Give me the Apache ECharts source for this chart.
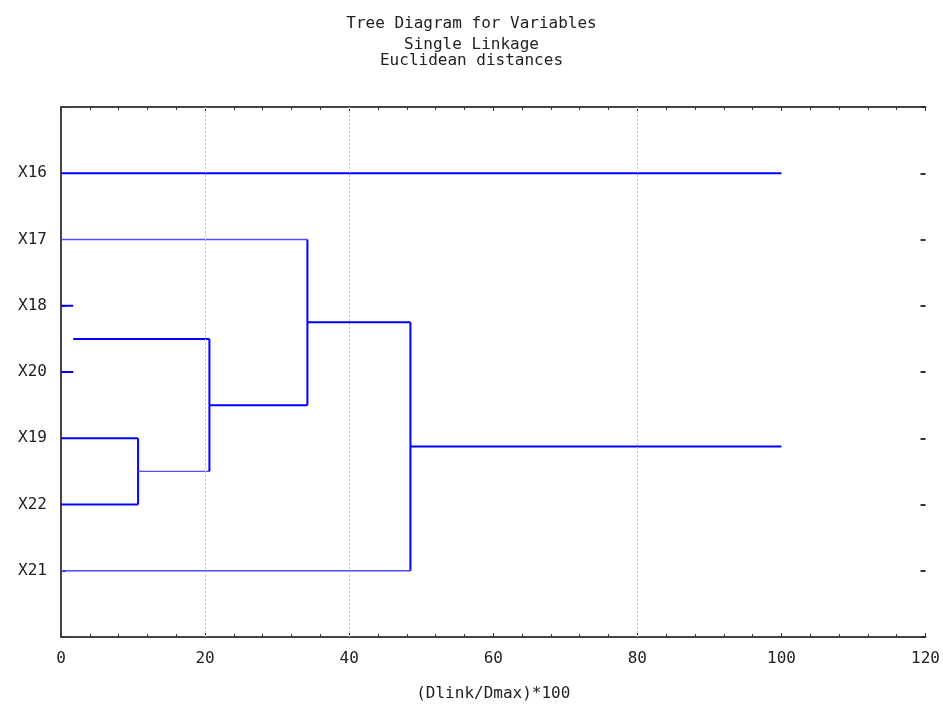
<!DOCTYPE html>
<html>
<head>
<meta charset="utf-8">
<script src="https://cdn.jsdelivr.net/npm/echarts@6/dist/echarts.min.js"></script>
<style>html,body{margin:0;padding:0;background:#fff;}#c{width:943px;height:707px;}</style>
</head>
<body>
<div id="c"></div>
<script>
// Leaves, top to bottom
const leaves = ['X16', 'X17', 'X18', 'X20', 'X19', 'X22', 'X21'];
// Merges: cluster ids 0..6 are leaves, merge k creates cluster 7+k
const mergeA = [2, 4, 7, 1, 10, 0];
const mergeB = [3, 5, 8, 9, 6, 11];
const mergeDist = [1.7, 10.7, 20.6, 34.2, 48.5, 100];
// X-axis
const xTicks = [0, 20, 40, 60, 80, 100, 120];
const gridMarks = [20, 40, 80];

const titleLines = ['Tree Diagram for Variables', 'Single Linkage', 'Euclidean distances'];
const xName = '(Dlink/Dmax)*100';

const BLUE = '#0000ff';
const THIN_BLUE = '#4d4dff';
const FONT = 'DejaVu Sans Mono';
const TXT = '#222';

// Build dendrogram segments from merges
const pos = leaves.map((_, i) => i);
const hgt = leaves.map(() => 0);
const segs = [];
const thinH = new Set([1, 6, 8]); // clusters whose incoming horizontal appears thin
mergeDist.forEach((d, k) => {
  const a = mergeA[k], b = mergeB[k];
  [a, b].forEach(c => {
    const thin = thinH.has(c);
    segs.push({pts: [[hgt[c], pos[c]], [d, pos[c]]], w: thin ? 1.3 : 2, c: thin ? THIN_BLUE : BLUE});
  });
  // the source image does not show the vertical for the tiny first merge or the root merge
  if (k !== 0 && k !== mergeDist.length - 1) {
    segs.push({pts: [[d, pos[a]], [d, pos[b]]], w: 2, c: BLUE});
  }
  pos.push((pos[a] + pos[b]) / 2);
  hgt.push(d);
});

const series = segs.map(s => ({
  type: 'line',
  data: s.pts,
  showSymbol: false,
  symbol: 'none',
  silent: true,
  animation: false,
  lineStyle: {color: s.c, width: s.w},
  z: 3
}));
series.push({
  type: 'line',
  data: [],
  silent: true,
  animation: false,
  markLine: {
    silent: true,
    symbol: 'none',
    label: {show: false},
    animation: false,
    lineStyle: {color: '#c0c0c0', type: [2, 2], width: 1},
    data: gridMarks.map(v => ({xAxis: v}))
  }
});

const tStyle = {fontFamily: FONT, fontSize: 16, fontWeight: 'normal', color: TXT};
const chart = echarts.init(document.getElementById('c'));
chart.setOption({
  backgroundColor: '#fff',
  animation: false,
  title: [
    {text: titleLines[0], left: 'center', top: 11, textStyle: tStyle},
    {text: titleLines[1], left: 'center', top: 32, textStyle: tStyle},
    {text: titleLines[2], left: 'center', top: 48, textStyle: tStyle}
  ],
  grid: {left: 61, right: 15, top: 107, bottom: 68, containLabel: false},
  xAxis: [
    {
      type: 'value', position: 'bottom', min: xTicks[0], max: xTicks[xTicks.length - 1], interval: 20,
      name: xName, nameLocation: 'middle', nameGap: 49,
      nameTextStyle: {fontFamily: FONT, fontSize: 16, color: TXT},
      axisLine: {show: true, onZero: false, lineStyle: {color: '#444', width: 2}},
      axisTick: {show: true, inside: true, length: 4, lineStyle: {color: '#333'}},
      minorTick: {show: true, splitNumber: 5, length: 3, lineStyle: {color: '#333'}},
      axisLabel: {fontFamily: FONT, fontSize: 16, color: TXT, margin: 14},
      splitLine: {show: false}
    },
    {
      type: 'value', position: 'top', min: xTicks[0], max: xTicks[xTicks.length - 1], interval: 20,
      axisLine: {show: true, onZero: false, lineStyle: {color: '#444', width: 2}},
      axisTick: {show: true, inside: true, length: 4, lineStyle: {color: '#333'}},
      minorTick: {show: true, splitNumber: 5, length: 3, lineStyle: {color: '#333'}},
      axisLabel: {show: false},
      splitLine: {show: false}
    }
  ],
  yAxis: [
    {
      type: 'value', inverse: true, min: -1, max: leaves.length, interval: 1, position: 'left',
      axisLine: {show: true, onZero: false, lineStyle: {color: '#444', width: 2}},
      axisTick: {show: true, inside: true, length: 5, lineStyle: {color: '#333'}},
      axisLabel: {fontFamily: FONT, fontSize: 16, color: TXT, margin: 14,
        formatter: v => (v >= 0 && v < leaves.length) ? leaves[v] : ''},
      splitLine: {show: false}
    },
    {
      type: 'value', inverse: true, min: -1, max: leaves.length, interval: 1, position: 'right',
      axisLine: {show: false, onZero: false},
      axisTick: {show: true, inside: true, length: 5, lineStyle: {color: '#333', width: 2}},
      axisLabel: {show: false},
      splitLine: {show: false}
    }
  ],
  series: series
});
</script>
</body>
</html>
